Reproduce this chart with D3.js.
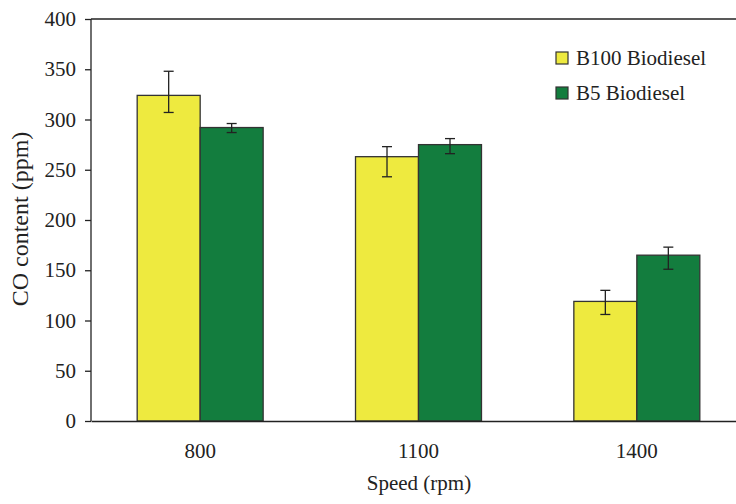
<!DOCTYPE html>
<html>
<head>
<meta charset="utf-8">
<script src="https://cdn.jsdelivr.net/npm/d3@7"></script>
<style>
  body { margin: 0; background: #fff; }
  text { font-family: "Liberation Serif", "Times New Roman", serif; fill: #222; }
</style>
</head>
<body>
<div id="chart"></div>
<script>
var speeds = ["800", "1100", "1400"];
var seriesNames = ["B100 Biodiesel", "B5 Biodiesel"];
var b100 = [324, 263, 119];
var b5 = [292, 275, 165];
var b100ErrUp = [24, 10, 11];
var b100ErrDown = [17, 20, 13];
var b5ErrUp = [4, 6, 8];
var b5ErrDown = [5, 9, 14];
var yTicks = [0, 50, 100, 150, 200, 250, 300, 350, 400];

var wt = 736;
var ht = 504;
var margin = { top: 19, right: -10, bottom: 83, left: 91 };
var width = wt - margin.left - margin.right;
var height = ht - margin.top - margin.bottom;

var colors = ["#eeea3f", "#137d3e"];

var data = speeds.map(function (s, i) {
    return {
        speed: s,
        values: [
            { key: 0, value: b100[i], up: b100ErrUp[i], down: b100ErrDown[i] },
            { key: 1, value: b5[i], up: b5ErrUp[i], down: b5ErrDown[i] }
        ]
    };
});

var svg = d3.select("#chart").append("svg")
    .attr("width", wt)
    .attr("height", ht);
var g = svg.append("g")
    .attr("transform", "translate(" + margin.left + "," + margin.top + ")");

var x0 = d3.scaleBand()
    .domain(speeds)
    .range([0, width])
    .paddingInner(0.423)
    .paddingOuter(0.2115);

var x1 = d3.scaleBand()
    .domain([0, 1])
    .range([0, x0.bandwidth()]);

var y = d3.scaleLinear()
    .domain([0, 400])
    .range([height, 0]);

// top frame line
g.append("line")
    .attr("x1", 0).attr("x2", width)
    .attr("y1", 0).attr("y2", 0)
    .attr("stroke", "#222").attr("stroke-width", 1.3);

var groups = g.selectAll(".grp")
    .data(data)
    .enter().append("g")
    .attr("class", "grp")
    .attr("transform", function (d) { return "translate(" + x0(d.speed) + ",0)"; });

groups.selectAll("rect")
    .data(function (d) { return d.values; })
    .enter().append("rect")
    .attr("x", function (d) { return x1(d.key); })
    .attr("y", function (d) { return y(d.value); })
    .attr("width", x1.bandwidth())
    .attr("height", function (d) { return height - y(d.value); })
    .attr("fill", function (d) { return colors[d.key]; })
    .attr("stroke", "#333")
    .attr("stroke-width", 1.3);

// error bars
var err = groups.selectAll(".err")
    .data(function (d) { return d.values; })
    .enter().append("g")
    .attr("class", "err")
    .attr("stroke", "#222")
    .attr("stroke-width", 1.3);

err.append("line")
    .attr("x1", function (d) { return x1(d.key) + x1.bandwidth() / 2; })
    .attr("x2", function (d) { return x1(d.key) + x1.bandwidth() / 2; })
    .attr("y1", function (d) { return y(d.value + d.up); })
    .attr("y2", function (d) { return y(d.value - d.down); });
err.append("line")
    .attr("x1", function (d) { return x1(d.key) + x1.bandwidth() / 2 - 5; })
    .attr("x2", function (d) { return x1(d.key) + x1.bandwidth() / 2 + 5; })
    .attr("y1", function (d) { return y(d.value + d.up); })
    .attr("y2", function (d) { return y(d.value + d.up); });
err.append("line")
    .attr("x1", function (d) { return x1(d.key) + x1.bandwidth() / 2 - 5; })
    .attr("x2", function (d) { return x1(d.key) + x1.bandwidth() / 2 + 5; })
    .attr("y1", function (d) { return y(d.value - d.down); })
    .attr("y2", function (d) { return y(d.value - d.down); });

// axes
var yAxis = g.append("g")
    .attr("class", "axis axis--y")
    .call(d3.axisLeft(y).tickValues(yTicks).tickSize(6).tickPadding(9));

var xAxis = g.append("g")
    .attr("class", "axis axis--x")
    .attr("transform", "translate(0," + height + ")")
    .call(d3.axisBottom(x0).tickSize(0).tickPadding(22).tickSizeOuter(0));

g.selectAll(".axis path, .axis line")
    .attr("stroke", "#222").attr("stroke-width", 1.3);
g.selectAll(".axis text")
    .attr("font-family", "Liberation Serif, Times New Roman, serif")
    .attr("font-size", 21)
    .attr("fill", "#222");
yAxis.select(".domain").attr("d", "M0," + height + "V0");

// axis titles
svg.append("text")
    .attr("x", 419)
    .attr("y", 490)
    .attr("text-anchor", "middle")
    .attr("font-size", 21)
    .text("Speed (rpm)");

svg.append("text")
    .attr("transform", "translate(28," + 219 + ") rotate(-90)")
    .attr("text-anchor", "middle")
    .attr("font-size", 24)
    .text("CO content (ppm)");

// legend
var legend = svg.selectAll(".legend")
    .data(seriesNames)
    .enter().append("g")
    .attr("class", "legend")
    .attr("transform", function (d, i) { return "translate(556," + (52 + i * 35) + ")"; });

legend.append("rect")
    .attr("width", 12).attr("height", 12)
    .attr("fill", function (d, i) { return colors[i]; })
    .attr("stroke", "#333").attr("stroke-width", 1.2);

legend.append("text")
    .attr("x", 20)
    .attr("y", 12.5)
    .attr("font-size", 21)
    .text(function (d) { return d; });
</script>
</body>
</html>
